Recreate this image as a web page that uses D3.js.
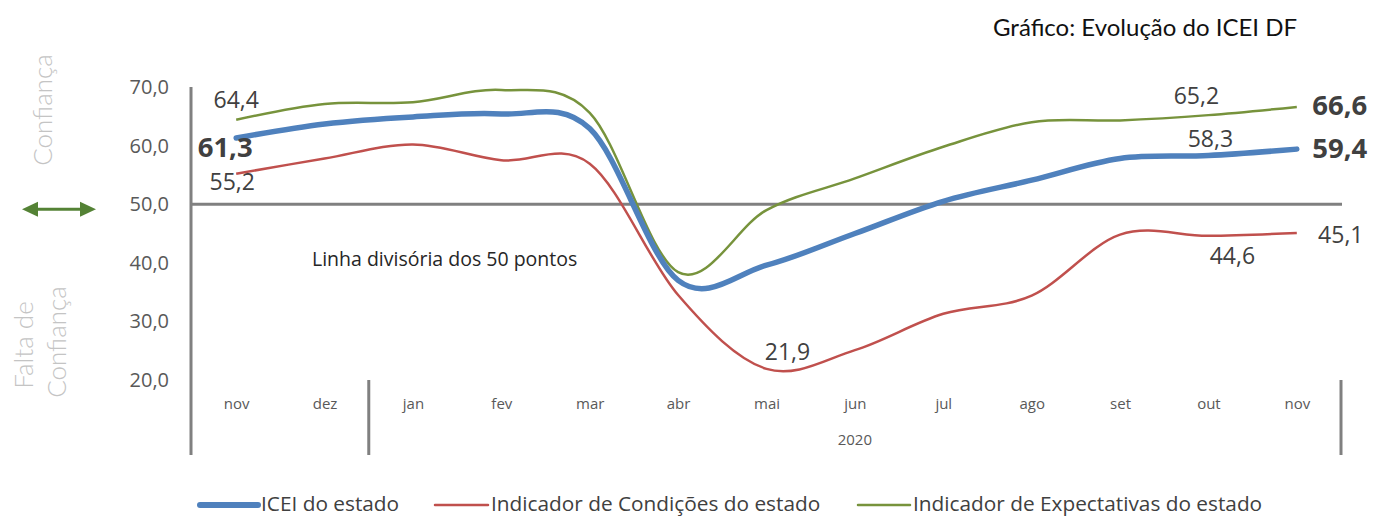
<!DOCTYPE html>
<html><head><meta charset="utf-8">
<script src="https://cdn.jsdelivr.net/npm/d3@7"></script>
<style>
html,body{margin:0;padding:0;background:#fff;}
svg{display:block;font-family:"Open Sans",sans-serif;}
</style></head>
<body>
<svg id="c" width="1384" height="516"></svg>
<script>
const months = ["nov","dez","jan","fev","mar","abr","mai","jun","jul","ago","set","out","nov"];
const yearLabels = ["2020"];
const icei = [61.3,63.7,64.9,65.4,62.9,37.0,39.6,45.0,50.5,54.1,57.8,58.3,59.4];
const condicoes = [55.2,57.8,60.2,57.5,56.9,34.5,21.9,25.1,31.3,34.4,44.8,44.6,45.1];
const expectativas = [64.4,67.1,67.4,69.5,65.6,38.4,49.0,54.4,59.8,64.0,64.3,65.2,66.6];
const yTicks = [20,30,40,50,60,70];
const seriesNames = ["ICEI do estado","Indicador de Condições do estado","Indicador de Expectativas do estado"];
const title = "Gráfico: Evolução do ICEI DF";
const divisorText = "Linha divisória dos 50 pontos";

const svg = d3.select("#c");
const idx = d3.range(months.length);
const x = d3.scalePoint().domain(idx).range([192,1341]).padding(0.5);
const y = d3.scaleLinear().domain([20,70]).range([380,87]);
const fmt = v => d3.format(".1f")(v).replace(".", ",");

const colors = {icei:"#4f81bd", cond:"#c0504d", exp:"#77933c"};
const axisGray = "#808080";

// Title
svg.append("text").attr("x",993).attr("y",36).attr("font-family","Lato, sans-serif")
  .attr("font-size",24).attr("fill","#111").text(title);

// Y axis tick labels
const yAxis = d3.axisLeft(y).tickValues(yTicks).tickFormat(fmt).tickSize(0).tickPadding(22);
const gy = svg.append("g").attr("transform","translate(191,0)").call(yAxis);
gy.select(".domain").remove();
gy.selectAll("text").attr("font-family","Open Sans, sans-serif").attr("font-size",20).attr("fill","#595959");

// X axis labels
const xAxis = d3.axisBottom(x).tickFormat(i => months[i]).tickSize(0).tickPadding(18);
const gx = svg.append("g").attr("transform","translate(0,380)").call(xAxis);
gx.select(".domain").remove();
gx.selectAll("text").attr("font-family","Open Sans, sans-serif").attr("font-size",15).attr("fill","#595959");

// year label centered on 2020 group
const yearStart = x(2) - x.step()/2, yearEnd = x(12) + x.step()/2;
svg.append("text").attr("x",(yearStart+yearEnd)/2).attr("y",445).attr("text-anchor","middle")
  .attr("font-size",15).attr("fill","#595959").text(yearLabels[0]);

// Axis lines
svg.append("line").attr("x1",191).attr("x2",191).attr("y1",y(70)).attr("y2",455)
  .attr("stroke",axisGray).attr("stroke-width",3);
svg.append("line").attr("x1",yearStart).attr("x2",yearStart).attr("y1",380).attr("y2",455)
  .attr("stroke",axisGray).attr("stroke-width",3);
svg.append("line").attr("x1",yearEnd).attr("x2",yearEnd).attr("y1",380).attr("y2",455)
  .attr("stroke",axisGray).attr("stroke-width",3);
// 50 line
svg.append("line").attr("x1",191).attr("x2",yearEnd+1).attr("y1",y(50)).attr("y2",y(50))
  .attr("stroke",axisGray).attr("stroke-width",3);

svg.append("text").attr("x",312).attr("y",266).attr("font-size",19.5).attr("fill","#262626").text(divisorText);

// Lines
const line = d3.line().x((d,i)=>x(i)).y(d=>y(d)).curve(d3.curveCardinal.tension(0));
svg.append("path").datum(expectativas).attr("d",line).attr("fill","none").attr("stroke",colors.exp).attr("stroke-width",2.5);
svg.append("path").datum(condicoes).attr("d",line).attr("fill","none").attr("stroke",colors.cond).attr("stroke-width",2.5);
svg.append("path").datum(icei).attr("d",line).attr("fill","none").attr("stroke",colors.icei).attr("stroke-width",5.5).attr("stroke-linecap","round");

// Data labels
const labels = [
  {s:expectativas,i:0,dx:0,dy:-18,bold:false},
  {s:icei,i:0,dx:-11,dy:12,bold:true},
  {s:condicoes,i:0,dx:-4,dy:10,bold:false},
  {s:condicoes,i:6,dx:21,dy:-15,bold:false},
  {s:expectativas,i:11,dx:-12,dy:-17,bold:false},
  {s:icei,i:11,dx:2,dy:-15,bold:false},
  {s:condicoes,i:11,dx:24,dy:22,bold:false},
  {s:condicoes,i:12,dx:44,dy:4,bold:false},
  {s:expectativas,i:12,dx:43,dy:1,bold:true},
  {s:icei,i:12,dx:43,dy:2,bold:true}
];
svg.append("g").selectAll("text").data(labels).join("text")
  .attr("x",d=>x(d.i)+d.dx).attr("y",d=>y(d.s[d.i])+d.dy)
  .attr("text-anchor","middle").attr("dominant-baseline","middle")
  .attr("font-size",d=>d.bold?27.5:23).attr("font-weight",d=>d.bold?700:400)
  .attr("fill","#404040").text(d=>fmt(d.s[d.i]));

// Left side labels
const lg = "#c4c4c4";
svg.append("text").attr("transform","translate(52,110) rotate(-90)").attr("text-anchor","middle")
  .attr("font-family","Lato, sans-serif").attr("font-weight",300).attr("font-size",26).attr("fill",lg).text("Confiança");
svg.append("text").attr("transform","translate(33,345) rotate(-90)").attr("text-anchor","middle")
  .attr("font-family","Lato, sans-serif").attr("font-weight",300).attr("font-size",26).attr("fill",lg).text("Falta de");
svg.append("text").attr("transform","translate(66,342) rotate(-90)").attr("text-anchor","middle")
  .attr("font-family","Lato, sans-serif").attr("font-weight",300).attr("font-size",26).attr("fill",lg).text("Confiança");

// Double arrow
const ay = y(50) + 5;
const arrowG = svg.append("g").attr("fill","#548235");
arrowG.append("line").attr("x1",36).attr("x2",82).attr("y1",ay).attr("y2",ay)
  .attr("stroke","#548235").attr("stroke-width",3);
arrowG.append("path").attr("d",`M22,${ay} L38,${ay-7.5} L38,${ay+7.5} Z`);
arrowG.append("path").attr("d",`M96,${ay} L80,${ay-7.5} L80,${ay+7.5} Z`);

// Legend
const leg = [
  {name:seriesNames[0],c:colors.icei,w:6,x1:200,x2:258,tx:261},
  {name:seriesNames[1],c:colors.cond,w:2.5,x1:435,x2:488,tx:491},
  {name:seriesNames[2],c:colors.exp,w:2.5,x1:858,x2:910,tx:913}
];
const lgG = svg.append("g");
leg.forEach(l=>{
  lgG.append("line").attr("x1",l.x1).attr("x2",l.x2).attr("y1",505).attr("y2",505)
    .attr("stroke",l.c).attr("stroke-width",l.w).attr("stroke-linecap","round");
  lgG.append("text").attr("x",l.tx).attr("y",505).attr("dominant-baseline","middle")
    .attr("font-size",20.8).attr("fill","#404040").text(l.name);
});
</script>
</body></html>
